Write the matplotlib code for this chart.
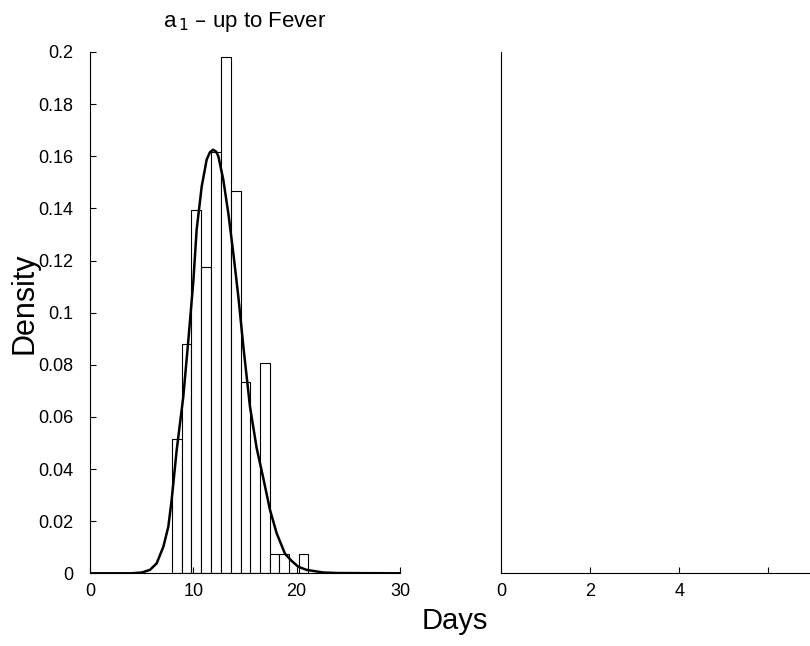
import matplotlib
matplotlib.use("Agg")
import matplotlib.pyplot as plt

plt.rcParams["font.family"] = ["Liberation Sans", "DejaVu Sans"]

# histogram bins (days) and densities
bin_edges = [7.94, 8.87, 9.80, 10.77, 11.71, 12.68, 13.61, 14.58, 15.51,
             16.45, 17.39, 18.32, 19.26, 20.20, 21.13]
densities = [0.0514, 0.0881, 0.1395, 0.1175, 0.1615, 0.1982, 0.1468, 0.0734,
             0.0, 0.0808, 0.0073, 0.0073, 0.0, 0.0073]

# fitted density curve
curve_x = [0, 4.0, 5.0, 5.8, 6.45, 7.1, 7.58, 7.9, 8.39, 9.03, 9.52, 10.0,
           10.32, 10.81, 11.29, 11.6, 11.9, 12.2, 12.42, 12.9, 13.39, 13.87,
           14.36, 14.84, 15.48, 16.13, 16.77, 17.42, 18.06, 18.87, 19.5, 20.16,
           20.97, 22.6, 24.0, 30.0]
curve_y = [0, 0.0, 0.0003, 0.0013, 0.0038, 0.0102, 0.0179, 0.0281, 0.0473,
           0.0678, 0.0896, 0.112, 0.1318, 0.1484, 0.1587, 0.1615, 0.1625, 0.1618,
           0.160, 0.151, 0.138, 0.1228, 0.106, 0.087, 0.064, 0.048, 0.0365,
           0.0243, 0.0154, 0.0075, 0.0048, 0.0025, 0.0013, 0.0003, 0.0001, 0.0]

y_ticks = [0, 0.02, 0.04, 0.06, 0.08, 0.1, 0.12, 0.14, 0.16, 0.18, 0.2]
y_labels = ["0", "0.02", "0.04", "0.06", "0.08", "0.1", "0.12", "0.14", "0.16", "0.18", "0.2"]
left_xticks = [0, 10, 20, 30]
right_xticks = [0, 2, 4, 6]
right_xlabels = ["0", "2", "4", ""]

W, H = 810, 646
fig = plt.figure(figsize=(W / 100, H / 100), dpi=100)

ax = fig.add_axes([90 / W, (H - 573.3) / H, 310 / W, 521.3 / H])
widths = [b - a for a, b in zip(bin_edges[:-1], bin_edges[1:])]
ax.bar(bin_edges[:-1], densities, width=widths, align="edge",
       facecolor="white", edgecolor="black", linewidth=0.8)
ax.plot(curve_x, curve_y, color="black", linewidth=1.8)
ax.set_xlim(0, 30)
ax.set_ylim(0, 0.2)
ax.set_xticks(left_xticks)
ax.set_yticks(y_ticks)
ax.set_yticklabels(y_labels)
ax.set_title("a$_{\\,1}$ \u2013 up to Fever", fontsize=16, pad=18)

ax2 = fig.add_axes([501.3 / W, (H - 573.3) / H, 310 / W, 521.3 / H])
ax2.set_xlim(0, 6.97)
ax2.set_ylim(0, 1)
ax2.set_xticks(right_xticks)
ax2.set_xticklabels(right_xlabels)
ax2.set_yticks([])

for a in (ax, ax2):
    a.spines["top"].set_visible(False)
    a.spines["right"].set_visible(False)
    for s in ("left", "bottom"):
        a.spines[s].set_linewidth(0.8)
    a.tick_params(direction="in", length=4, width=0.8, labelsize=13)
    a.tick_params(axis="x", pad=7)
    a.tick_params(axis="y", pad=12)

fig.text(0.561, 0.038, "Days", fontsize=21, ha="center", va="center")
fig.text(0.030, 0.531, "Density", fontsize=22, ha="center", va="center", rotation=90)

fig.savefig("out.png", dpi=100)
